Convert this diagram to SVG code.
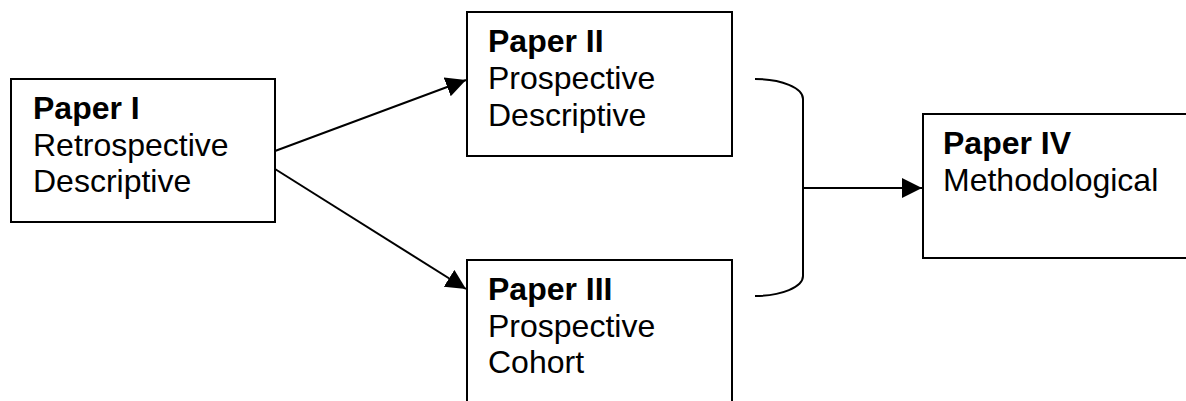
<svg xmlns="http://www.w3.org/2000/svg" width="1186" height="401" viewBox="0 0 1186 401">
<style>
.box{fill:#fff;stroke:#000;stroke-width:2}
.t{font-family:"Liberation Sans",Arial,sans-serif;font-size:32px;fill:#000}
.b{font-weight:bold}
.c{fill:none;stroke:#000;stroke-width:2}
</style>
<defs>
<marker id="ah" markerUnits="userSpaceOnUse" markerWidth="22" markerHeight="22" refX="20" refY="10" orient="auto" viewBox="0 0 22 22">
<path d="M0,0 L20,10 L0,20 z" fill="#000"/>
</marker>
</defs>
<rect width="1186" height="401" fill="#fff"/>
<g id="connectors">
<line class="c" x1="275" y1="151" x2="466" y2="80" marker-end="url(#ah)"/>
<line class="c" x1="275" y1="169" x2="466" y2="289" marker-end="url(#ah)"/>
<path class="c" d="M755,79 A48,20 0 0 1 803,99 L803,276 A48,20 0 0 1 755,296"/>
<line class="c" x1="803" y1="188" x2="922" y2="188" marker-end="url(#ah)"/>
</g>
<g id="paper1">
<rect class="box" x="11" y="79" width="264" height="143"/>
<text class="t" x="33" y="119"><tspan class="b">Paper I</tspan><tspan x="33" y="156">Retrospective</tspan><tspan x="33" y="192">Descriptive</tspan></text>
</g>
<g id="paper2">
<rect class="box" x="467" y="12" width="265" height="144"/>
<text class="t" x="488" y="52"><tspan class="b">Paper II</tspan><tspan x="488" y="89">Prospective</tspan><tspan x="488" y="126">Descriptive</tspan></text>
</g>
<g id="paper3">
<rect class="box" x="467" y="260" width="265" height="160"/>
<text class="t" x="488" y="300"><tspan class="b">Paper III</tspan><tspan x="488" y="337">Prospective</tspan><tspan x="488" y="373">Cohort</tspan></text>
</g>
<g id="paper4">
<rect class="box" x="923" y="114" width="280" height="144"/>
<text class="t" x="943" y="154"><tspan class="b">Paper IV</tspan><tspan x="943" y="191">Methodological</tspan></text>
</g>
</svg>
